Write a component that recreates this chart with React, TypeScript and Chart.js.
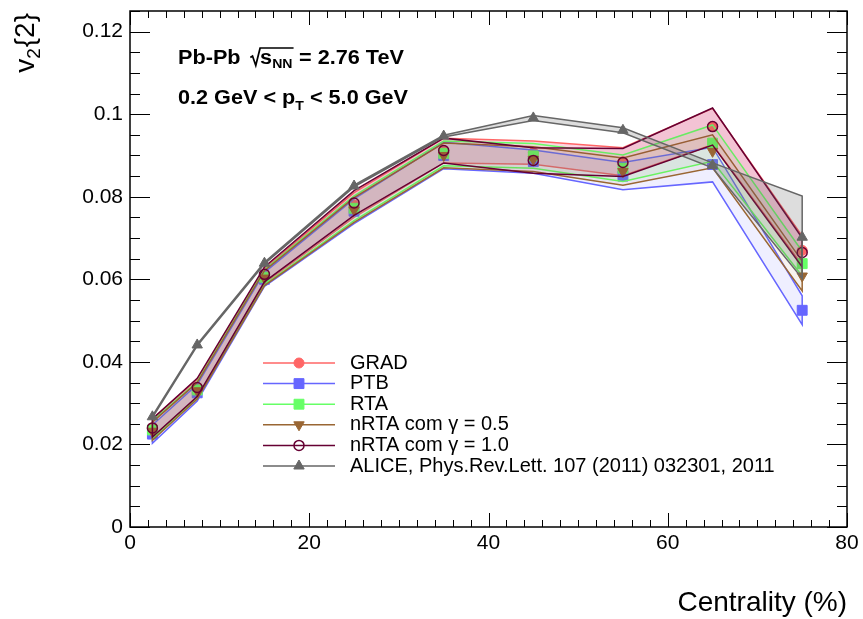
import React, { useEffect, useRef } from "react";
import { Chart, registerables } from "chart.js";

Chart.register(...registerables);

// ---------------- data ----------------
const CENTRALITY = [2.5, 7.5, 15, 25, 35, 45, 55, 65, 75];

const GRAD_V2 = [0.024, 0.0335, 0.0608, 0.078, 0.0912, 0.0907, 0.0885, 0.097, 0.067];
const GRAD_ERR = [0.0022, 0.0022, 0.0018, 0.003, 0.003, 0.0028, 0.0034, 0.0044, 0.0035];
const PTB_V2 = [0.0225, 0.0325, 0.06, 0.0765, 0.09, 0.0885, 0.085, 0.0878, 0.0525];
const PTB_ERR = [0.0022, 0.002, 0.0017, 0.003, 0.0032, 0.0028, 0.0033, 0.0042, 0.0035];
const RTA_V2 = [0.0235, 0.0332, 0.0605, 0.0772, 0.0905, 0.0899, 0.0869, 0.093, 0.0638];
const RTA_ERR = [0.0022, 0.002, 0.0018, 0.003, 0.003, 0.003, 0.0032, 0.0044, 0.003];
const NRTA05_V2 = [0.0232, 0.033, 0.0603, 0.0768, 0.09, 0.0891, 0.0861, 0.091, 0.0608];
const NRTA05_ERR = [0.0022, 0.002, 0.0018, 0.003, 0.003, 0.003, 0.0033, 0.004, 0.0036];
const NRTA10_V2 = [0.024, 0.0338, 0.0612, 0.0785, 0.0912, 0.0888, 0.0883, 0.097, 0.0665];
const NRTA10_ERR = [0.0022, 0.0022, 0.0018, 0.003, 0.003, 0.0031, 0.0034, 0.0045, 0.0035];
const ALICE_V2 = [0.0267, 0.0441, 0.0639, 0.0826, 0.0947, 0.0991, 0.0961, 0.0876, 0.0702];
const ALICE_ERR = [0.0002, 0.0002, 0.0002, 0.0002, 0.0002, 0.0006, 0.0006, 0.0006, 0.01];

const SERIES_LABELS = [
  "GRAD",
  "PTB",
  "RTA",
  "nRTA com \u03B3 = 0.5",
  "nRTA com \u03B3 = 1.0",
  "ALICE, Phys.Rev.Lett. 107 (2011) 032301, 2011",
];
const SERIES_VALUES = [GRAD_V2, PTB_V2, RTA_V2, NRTA05_V2, NRTA10_V2, ALICE_V2];
const SERIES_ERRORS = [GRAD_ERR, PTB_ERR, RTA_ERR, NRTA05_ERR, NRTA10_ERR, ALICE_ERR];

const X_TICKS = [0, 20, 40, 60, 80];
const X_TICK_LABELS = ["0", "20", "40", "60", "80"];
const Y_TICKS = [0, 0.02, 0.04, 0.06, 0.08, 0.1, 0.12];
const Y_TICK_LABELS = ["0", "0.02", "0.04", "0.06", "0.08", "0.1", "0.12"];

const X_TITLE = "Centrality (%)";
const ANNOT_1 = ["Pb-Pb", "s", "NN", "= 2.76 TeV"];
const ANNOT_2 = ["0.2 GeV < p", "T", " < 5.0 GeV"];

// ---------------- styles ----------------
const FONT = "'Liberation Sans', Arial, Helvetica, sans-serif";

type Style = {
  line: string;
  fill: string;
  marker: "circle" | "rect" | "triangle";
  radius: number;
  rotation: number;
  markerFill: string;
  markerBorderWidth: number;
  bandWidth: number;
};

const STYLES: Style[] = [
  { line: "#ff6666", fill: "rgba(240,60,120,0.22)", marker: "circle", radius: 5, rotation: 0, markerFill: "#ff6666", markerBorderWidth: 1, bandWidth: 1.5 },
  { line: "#6666ff", fill: "rgba(102,102,255,0.1)", marker: "rect", radius: 7, rotation: 0, markerFill: "#6666ff", markerBorderWidth: 1, bandWidth: 1.5 },
  { line: "#66ff66", fill: "rgba(102,255,102,0.1)", marker: "rect", radius: 7, rotation: 0, markerFill: "#66ff66", markerBorderWidth: 1, bandWidth: 1.5 },
  { line: "#996633", fill: "rgba(153,102,51,0.08)", marker: "triangle", radius: 6, rotation: 180, markerFill: "#996633", markerBorderWidth: 1, bandWidth: 1.5 },
  { line: "#660033", fill: "rgba(140,0,60,0.08)", marker: "circle", radius: 5, rotation: 0, markerFill: "rgba(0,0,0,0)", markerBorderWidth: 1.5, bandWidth: 1.5 },
  { line: "#666666", fill: "rgba(102,102,102,0.22)", marker: "triangle", radius: 6, rotation: 0, markerFill: "#666666", markerBorderWidth: 1, bandWidth: 1.5 },
];

// ---------------- helpers ----------------
function drawMarker(ctx: CanvasRenderingContext2D, st: Style, x: number, y: number) {
  ctx.save();
  ctx.fillStyle = st.markerFill;
  ctx.strokeStyle = st.line;
  ctx.lineWidth = st.markerBorderWidth;
  ctx.beginPath();
  if (st.marker === "circle") {
    ctx.arc(x, y, st.radius, 0, Math.PI * 2);
  } else if (st.marker === "rect") {
    const s = st.radius * Math.SQRT1_2;
    ctx.rect(x - s, y - s, 2 * s, 2 * s);
  } else {
    const r = st.radius;
    let a = (st.rotation * Math.PI) / 180;
    ctx.moveTo(x + Math.sin(a) * r, y - Math.cos(a) * r);
    for (let k = 0; k < 2; k++) {
      a += (2 * Math.PI) / 3;
      ctx.lineTo(x + Math.sin(a) * r, y - Math.cos(a) * r);
    }
    ctx.closePath();
  }
  ctx.fill();
  ctx.stroke();
  ctx.restore();
}

function drawAnnot1(ctx: CanvasRenderingContext2D, x: number, y: number, target: number) {
  const big = `bold 20px ${FONT}`;
  const small = `bold 13px ${FONT}`;
  ctx.font = big;
  const wPb = ctx.measureText(ANNOT_1[0]).width;
  const wS = ctx.measureText(ANNOT_1[1]).width;
  const wEq = ctx.measureText(ANNOT_1[3]).width;
  ctx.font = small;
  const wNN = ctx.measureText(ANNOT_1[2]).width;
  const gap1 = 9, sq = 9, gap2 = 6;
  const total = wPb + gap1 + sq + wS + wNN + gap2 + wEq;
  const sx = target / total;
  ctx.save();
  ctx.translate(x, y);
  ctx.scale(sx, 1);
  ctx.textAlign = "left";
  ctx.textBaseline = "alphabetic";
  ctx.font = big;
  ctx.fillText(ANNOT_1[0], 0, 0);
  let cx = wPb + gap1;
  ctx.lineWidth = 1.6;
  ctx.beginPath();
  ctx.moveTo(cx, -6);
  ctx.lineTo(cx + 2, -7.5);
  ctx.lineTo(cx + 5, 2);
  ctx.lineTo(cx + sq, -15.5);
  ctx.lineTo(cx + sq + wS + wNN + 1, -15.5);
  ctx.stroke();
  cx += sq;
  ctx.fillText(ANNOT_1[1], cx, 0);
  cx += wS;
  ctx.font = small;
  ctx.fillText(ANNOT_1[2], cx, 4);
  cx += wNN + gap2;
  ctx.font = big;
  ctx.fillText(ANNOT_1[3], cx, 0);
  ctx.restore();
}

function drawAnnot2(ctx: CanvasRenderingContext2D, x: number, y: number, target: number) {
  const big = `bold 20px ${FONT}`;
  const small = `bold 13px ${FONT}`;
  ctx.font = big;
  const w1 = ctx.measureText(ANNOT_2[0]).width;
  const w3 = ctx.measureText(ANNOT_2[2]).width;
  ctx.font = small;
  const w2 = ctx.measureText(ANNOT_2[1]).width;
  const total = w1 + w2 + w3;
  const sx = target / total;
  ctx.save();
  ctx.translate(x, y);
  ctx.scale(sx, 1);
  ctx.textAlign = "left";
  ctx.textBaseline = "alphabetic";
  ctx.font = big;
  ctx.fillText(ANNOT_2[0], 0, 0);
  ctx.font = small;
  ctx.fillText(ANNOT_2[1], w1, 6);
  ctx.font = big;
  ctx.fillText(ANNOT_2[2], w1 + w2, 0);
  ctx.restore();
}

// frame and ROOT-like ticks
const framePlugin = {
  id: "rootFrame",
  afterDatasetsDraw(chart: any) {
    const { ctx, chartArea: a, scales } = chart;
    const xs = scales.x;
    const ys = scales.y;
    ctx.save();
    ctx.strokeStyle = "#000";
    ctx.lineWidth = 1;
    const seg = (x1: number, y1: number, x2: number, y2: number) => {
      ctx.beginPath();
      ctx.moveTo(x1, y1);
      ctx.lineTo(x2, y2);
      ctx.stroke();
    };
    for (let i = 0; i <= 25; i++) {
      const py = Math.round(ys.getPixelForValue(i * 0.005)) + 0.5;
      const len = i % 4 === 0 ? 20 : 10;
      seg(a.left, py, a.left + len, py);
      seg(a.right, py, a.right - len, py);
    }
    for (let i = 0; i <= 40; i++) {
      const px = Math.round(xs.getPixelForValue(i * 2)) + 0.5;
      const len = i % 10 === 0 ? 14 : 7;
      seg(px, a.bottom, px, a.bottom - len);
      seg(px, a.top, px, a.top + len);
    }
    ctx.lineWidth = 1.5;
    ctx.strokeRect(a.left, a.top, a.right - a.left, a.bottom - a.top);
    ctx.restore();
  },
};

const textPlugin = {
  id: "rootText",
  afterDraw(chart: any) {
    const { ctx, chartArea: a } = chart;
    ctx.save();
    ctx.fillStyle = "#000";
    ctx.strokeStyle = "#000";

    drawAnnot1(ctx, 178, 63.5, 226);
    drawAnnot2(ctx, 178, 103.5, 230);

    // legend
    const x0 = 263, x1 = 335, mx = 299, tx = 350, y0 = 363, dy = 20.6;
    SERIES_LABELS.forEach((label, i) => {
      const st = STYLES[i];
      const y = y0 + i * dy;
      ctx.strokeStyle = st.line;
      ctx.lineWidth = 1.5;
      ctx.beginPath();
      ctx.moveTo(x0, y);
      ctx.lineTo(x1, y);
      ctx.stroke();
      drawMarker(ctx, st, mx, y);
      ctx.fillStyle = "#000";
      ctx.font = `20px ${FONT}`;
      ctx.textAlign = "left";
      ctx.textBaseline = "alphabetic";
      ctx.fillText(label, tx, y + 5.5);
    });

    // x title
    ctx.fillStyle = "#000";
    ctx.font = `28px ${FONT}`;
    ctx.textAlign = "right";
    ctx.textBaseline = "alphabetic";
    ctx.fillText(X_TITLE, a.right, 611);

    // y title v_2{2}
    ctx.textAlign = "left";
    ctx.font = `28px ${FONT}`;
    const wv = ctx.measureText("v").width;
    const wb = ctx.measureText("{2}").width;
    ctx.font = `19px ${FONT}`;
    const w2 = ctx.measureText("2").width;
    const total = wv + w2 + wb + 1;
    ctx.translate(34, 13 + total);
    ctx.rotate(-Math.PI / 2);
    ctx.font = `28px ${FONT}`;
    ctx.fillText("v", 0, 0);
    ctx.font = `19px ${FONT}`;
    ctx.fillText("2", wv, 6);
    ctx.font = `28px ${FONT}`;
    ctx.fillText("{2}", wv + w2 + 1, 0);
    ctx.restore();
  },
};

export default function App() {
  const ref = useRef<HTMLCanvasElement | null>(null);

  useEffect(() => {
    if (!ref.current) return;
    Chart.defaults.font.family = FONT;

    const datasets: any[] = [];
    const n = SERIES_LABELS.length;
    SERIES_LABELS.forEach((label, i) => {
      const st = STYLES[i];
      const vals = SERIES_VALUES[i];
      const errs = SERIES_ERRORS[i];
      const upper = CENTRALITY.map((x, k) => ({ x, y: vals[k] + errs[k] }));
      const lower = CENTRALITY.map((x, k) => ({ x, y: vals[k] - errs[k] })).reverse();
      const poly = [...upper, ...lower, upper[0]];
      const base = (n - i) * 2;
      datasets.push({
        label: label + " band",
        data: poly,
        borderColor: st.line,
        borderWidth: st.bandWidth,
        backgroundColor: st.fill,
        fill: "shape",
        pointRadius: 0,
        pointHoverRadius: 0,
        tension: 0,
        order: base + 1,
      });
      datasets.push({
        label,
        data: CENTRALITY.map((x, k) => ({ x, y: vals[k] })),
        showLine: false,
        borderColor: st.line,
        borderWidth: 2,
        backgroundColor: st.markerFill,
        fill: false,
        tension: 0,
        pointStyle: st.marker,
        pointRadius: st.radius,
        pointHoverRadius: st.radius,
        pointRotation: st.rotation,
        pointBackgroundColor: st.markerFill,
        pointBorderColor: st.line,
        pointBorderWidth: st.markerBorderWidth,
        order: base,
      });
    });

    const chart = new Chart(ref.current, {
      type: "line",
      data: { datasets },
      options: {
        animation: false,
        responsive: false,
        devicePixelRatio: 1,
        layout: { padding: { top: 11, right: 16, left: 0, bottom: 0 } },
        plugins: {
          legend: { display: false },
          tooltip: { enabled: false },
        },
        events: [],
        scales: {
          x: {
            type: "linear",
            min: 0,
            max: 80,
            grid: { display: false, drawTicks: false },
            border: { display: false },
            afterBuildTicks: (s: any) => {
              s.ticks = X_TICKS.map((v) => ({ value: v }));
            },
            afterFit: (s: any) => {
              s.height = 92;
              s.paddingLeft = 0;
              s.paddingRight = 0;
            },
            ticks: {
              autoSkip: false,
              maxRotation: 0,
              padding: 4,
              color: "#000",
              font: { family: FONT, size: 21 },
              callback: (_v: any, i: number) => X_TICK_LABELS[i],
            },
          },
          y: {
            type: "linear",
            min: 0,
            max: 0.125,
            grid: { display: false, drawTicks: false },
            border: { display: false },
            afterBuildTicks: (s: any) => {
              s.ticks = Y_TICKS.map((v) => ({ value: v }));
            },
            afterFit: (s: any) => {
              s.width = 130;
              s.paddingTop = 0;
              s.paddingBottom = 0;
            },
            ticks: {
              autoSkip: false,
              padding: 7,
              color: "#000",
              font: { family: FONT, size: 21 },
              callback: (_v: any, i: number) => Y_TICK_LABELS[i],
            },
          },
        },
      },
      plugins: [framePlugin, textPlugin],
    } as any);

    return () => chart.destroy();
  }, []);

  return (
    <div style={{ position: "absolute", left: 0, top: 0, width: 863, height: 619, background: "#fff" }}>
      <canvas ref={ref} width={863} height={619} style={{ display: "block" }} />
    </div>
  );
}
